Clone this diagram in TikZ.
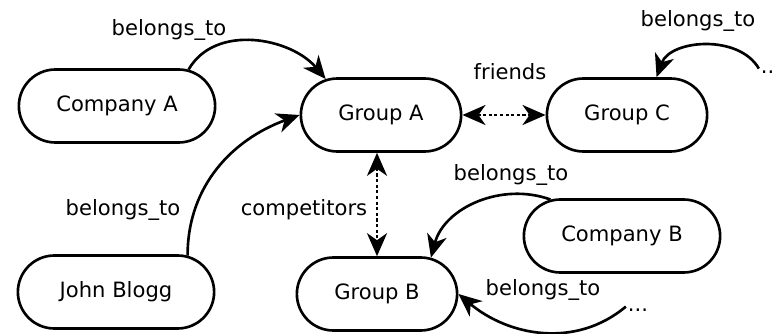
\documentclass[tikz,border=0pt]{standalone}
\usepackage{fontspec}
\setmainfont{DejaVu Sans}
\usetikzlibrary{arrows.meta,shapes.misc}
\tikzset{
  entity/.style={rounded rectangle, draw, line width=1.5pt, minimum height=1.46cm, font=\fontsize{12}{14}\selectfont},
  grp/.style={entity, minimum width=3.44cm},
  member/.style={entity, minimum width=4.16cm},
  lbl/.style={font=\fontsize{12}{14}\selectfont, inner sep=1pt},
  tip/.style={Stealth[length=0.46cm, width=0.4cm, inset=0.14cm]},
  belongs/.style={line width=1.5pt, -{Stealth[length=0.46cm, width=0.4cm, inset=0.14cm]}},
  relation/.style={line width=1.6pt, dash pattern=on 1.8pt off 1.4pt, {Stealth[length=0.46cm, width=0.4cm, inset=0.14cm]}-{Stealth[length=0.46cm, width=0.4cm, inset=0.14cm]}}
}
\begin{document}
\begin{tikzpicture}[x=0.02cm, y=-0.02cm]
\useasboundingbox (0,0) rectangle (776,334);
\node[member] (compA) at (117,106) {Company A};
\node[member] (john) at (116,292) {John Blogg};
\node[member] (compB) at (622,236) {Company B};
\node[grp] (gA) at (381,115) {Group A};
\node[grp] (gC) at (627,115) {Group C};
\node[grp] (gB) at (377,294) {Group B};
\node[lbl] (dotsC) at (771,72) {...};
\node[lbl] (dotsB) at (638,310) {...};
\foreach \p [count=\i] in {(169,30),(698,21),(123,210),(511,175),(543,290)} {
\node[lbl] (bt\i) at \p {belongs\_to};
}
\node[lbl] (fr) at (510,72) {friends};
\node[lbl] (comp) at (304,210) {competitors};
\draw[belongs] (compA.27) to[out=60, in=130] (gA.147);
\draw[belongs] (john.27) to[out=90, in=200] (gA.west);
\draw[belongs] (dotsC.north west) to[out=120, in=70] (gC.52);
\draw[belongs] (compB.153) to[out=160, in=75] (gB.34);
\draw[belongs] (dotsB.north west) to[out=220, in=-40] (gB.east);
\draw[relation] (gA.east) -- (gC.west);
\draw[relation] (gB.north |- gA.south) -- (gB.north);
\end{tikzpicture}
\end{document}
